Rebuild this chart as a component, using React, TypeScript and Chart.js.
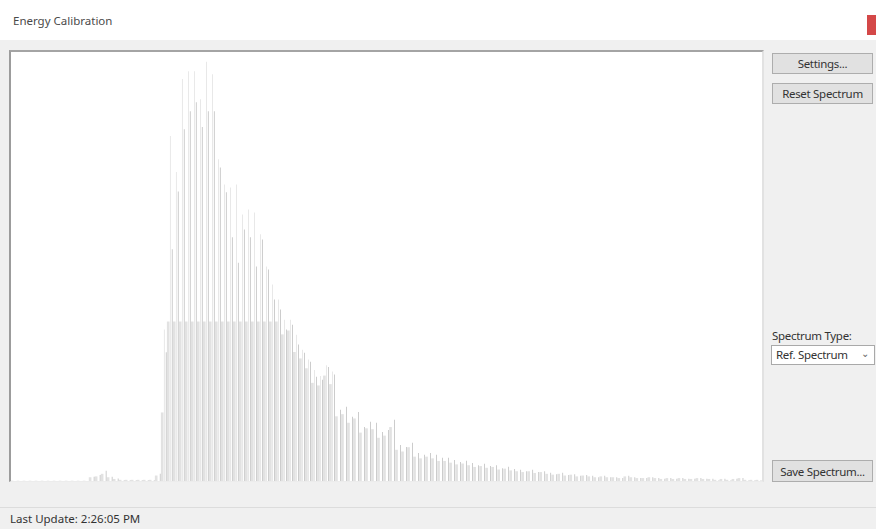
import React, { useEffect, useRef } from "react";
import { Chart, registerables } from "chart.js";

Chart.register(...registerables);

// Spectrum counts per channel
const darkCounts = [
  0, 0, 0, 0, 0, 0, 0, 0, 0, 0, 0, 0, 0,
  10, 14, 24, 10, 6, 2, 2, 2, 2, 2, 2, 17,
  300, 540, 675, 820, 862, 883, 825, 862, 862, 731, 673, 568, 509, 586, 568, 500, 563, 493, 423, 400,
  353, 364, 318, 299, 278, 243, 236, 266, 248, 166, 173, 150, 161, 126, 138, 136, 114, 119, 143,
  84, 79, 89, 65, 61, 65, 61, 54, 54, 49, 44, 47, 42, 37, 40, 35, 37, 30, 33, 28, 26, 23, 26, 21, 23,
  19, 16, 19, 14, 16, 12, 14, 12, 9, 12, 9, 9, 7, 12, 9, 7, 7, 9, 7, 5, 7, 5, 7, 5, 5, 7, 5, 5, 2, 5,
  2, 5, 7, 2, 2, 2,
];

const peakCounts = [
  0, 0, 0, 0, 0, 0, 0, 0, 0, 0, 0, 0, 0,
  0, 0, 0, 0, 0, 0, 0, 0, 0, 0, 0, 0,
  353, 804, 720, 937, 955, 955, 890, 977, 948, 750, 691, 684, 691, 621, 633, 626, 575, 500, 458, 423,
  376, 376, 341, 306, 283, 259, 245, 270, 255, 0, 0, 0, 0, 0, 0, 0, 0, 0, 0,
  0, 0, 0, 0, 0, 0, 0, 0, 0, 0, 0, 0, 0, 0, 0, 0, 0, 0, 0, 0, 0, 0, 0, 0, 0,
  0, 0, 0, 0, 0, 0, 0, 0, 0, 0, 0, 0, 0, 0, 0, 0, 0, 0, 0, 0, 0, 0, 0, 0, 0, 0, 0, 0, 0, 0,
  0, 0, 0, 0, 0, 0,
];

const baseCounts = [
  0, 0, 0, 0, 0, 0, 0, 0, 0, 0, 0, 0, 0,
  8, 10, 16, 8, 4, 2, 2, 2, 2, 2, 2, 12,
  159, 371, 371, 371, 371, 371, 371, 371, 371, 371, 371, 371, 371, 371, 371, 371, 371, 371, 371, 371,
  341, 350, 300, 285, 262, 228, 222, 245, 225, 150, 155, 135, 145, 112, 122, 120, 100, 105, 125,
  72, 68, 78, 56, 52, 56, 52, 46, 46, 42, 38, 40, 36, 32, 34, 30, 32, 26, 28, 24, 22, 20, 22, 18, 20,
  16, 14, 16, 12, 14, 10, 12, 10, 8, 10, 8, 8, 6, 10, 8, 6, 6, 8, 6, 4, 6, 4, 6, 4, 4, 6, 4, 4, 2, 4,
  2, 4, 6, 2, 2, 2,
];

const channelLabels = darkCounts.map((_, i) => String(i));
const yMax = 1000;

const FONT = '"Noto Sans", "Open Sans", sans-serif';
const FS = 11.5;

function SpectrumChart() {
  const ref = useRef<HTMLCanvasElement | null>(null);
  useEffect(() => {
    if (!ref.current) return;
    const hiddenCat = { type: "category" as const, display: false, offset: true, grid: { display: false } };
    const chart = new Chart(ref.current, {
      type: "bar",
      data: {
        labels: channelLabels,
        datasets: [
          {
            label: "base",
            data: baseCounts,
            backgroundColor: "#e2e2e2",
            barPercentage: 1,
            categoryPercentage: 1,
            xAxisID: "x3",
            order: 3,
          },
          {
            label: "peak",
            data: peakCounts,
            backgroundColor: "#d2d2d2",
            barPercentage: 0.25,
            categoryPercentage: 1,
            xAxisID: "x2",
            order: 2,
          },
          {
            label: "counts",
            data: darkCounts,
            backgroundColor: "#b9b9b9",
            barPercentage: 0.36,
            categoryPercentage: 1,
            xAxisID: "x",
            order: 1,
          },
        ],
      },
      options: {
        animation: false,
        responsive: false,
        devicePixelRatio: 1,
        events: [],
        layout: { padding: 0 },
        plugins: { legend: { display: false }, tooltip: { enabled: false } },
        scales: {
          x: hiddenCat,
          x2: hiddenCat,
          x3: hiddenCat,
          y: { display: false, min: 0, max: yMax, grid: { display: false } },
        },
      },
    });
    return () => chart.destroy();
  }, []);
  return <canvas ref={ref} width={751} height={429} style={{ display: "block" }} />;
}

const btn: React.CSSProperties = {
  position: "absolute",
  left: 772,
  width: 99,
  height: 19,
  background: "#e1e1e1",
  border: "1px solid #adadad",
  fontFamily: FONT,
  fontSize: FS,
  color: "#333",
  display: "flex",
  alignItems: "center",
  justifyContent: "center",
  boxSizing: "content-box",
  letterSpacing: -0.3,
};

export default function App() {
  return (
    <div
      style={{
        position: "fixed",
        left: 0,
        top: 0,
        width: 876,
        height: 529,
        background: "#f0f0f0",
        overflow: "hidden",
        fontFamily: FONT,
        color: "#333",
      }}
    >
      {/* title bar */}
      <div style={{ position: "absolute", left: 0, top: 0, width: 876, height: 40, background: "#ffffff" }} />
      <div style={{ position: "absolute", left: 13, top: 13, fontSize: FS, color: "#4a4a4a" }}>Energy Calibration</div>
      <div style={{ position: "absolute", left: 867, top: 15, width: 9, height: 20, background: "#d44848" }} />

      {/* chart frame */}
      <div
        style={{
          position: "absolute",
          left: 9,
          top: 50,
          width: 751,
          height: 429,
          background: "#fff",
          borderLeft: "2px solid #9c9c9c",
          borderTop: "2px solid #a4a4a4",
          borderRight: "2px solid #e2e2e2",
          borderBottom: "1px solid #ececec",
        }}
      >
        <SpectrumChart />
      </div>

      {/* right panel */}
      <div style={{ ...btn, top: 53 }}>Settings...</div>
      <div style={{ ...btn, top: 83 }}>Reset Spectrum</div>
      <div style={{ position: "absolute", left: 772, top: 328, fontSize: FS, color: "#333", letterSpacing: -0.3 }}>Spectrum Type:</div>
      <div
        style={{
          position: "absolute",
          left: 771,
          top: 345,
          width: 102,
          height: 18,
          background: "#fff",
          border: "1px solid #a9a9a9",
          fontSize: FS,
          color: "#333",
          letterSpacing: -0.3,
        }}
      >
        <span style={{ position: "absolute", left: 4, top: 1 }}>Ref. Spectrum</span>
        <span style={{ position: "absolute", right: 5, top: 0, fontSize: 10, color: "#666" }}>⌄</span>
      </div>
      <div style={{ ...btn, top: 460, height: 20 }}>Save Spectrum...</div>

      {/* status bar */}
      <div style={{ position: "absolute", left: 0, top: 507, width: 876, height: 1, background: "#dcdcdc" }} />
      <div style={{ position: "absolute", left: 10, top: 511, fontSize: FS, color: "#333" }}>Last Update: 2:26:05 PM</div>
    </div>
  );
}
